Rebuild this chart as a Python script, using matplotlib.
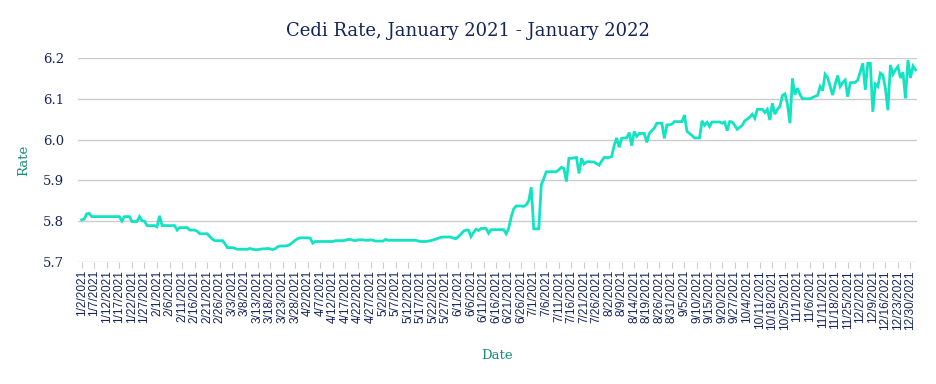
import matplotlib
matplotlib.use("Agg")
from matplotlib import pyplot as plt

# ghana cedi / usd rate, one value per trading day
rate = [
    5.803, 5.805, 5.818, 5.819, 5.811, 5.811, 5.811, 5.811, 5.811, 5.811,
    5.811, 5.811, 5.811, 5.811, 5.811, 5.811, 5.800, 5.811, 5.811, 5.811,
    5.799, 5.799, 5.799, 5.811, 5.801, 5.800, 5.789, 5.789, 5.789, 5.789,
    5.786, 5.813, 5.789, 5.789, 5.789, 5.789, 5.789, 5.789, 5.778, 5.784,
    5.784, 5.784, 5.784, 5.778, 5.778, 5.778, 5.775, 5.769, 5.769, 5.769,
    5.769, 5.762, 5.756, 5.752, 5.752, 5.752, 5.752, 5.745, 5.735, 5.735,
    5.735, 5.733, 5.731, 5.731, 5.731, 5.731, 5.731, 5.733, 5.731, 5.730,
    5.730, 5.731, 5.732, 5.732, 5.733, 5.732, 5.730, 5.732, 5.737, 5.739,
    5.739, 5.739, 5.740, 5.743, 5.748, 5.753, 5.757, 5.759, 5.759, 5.759,
    5.759, 5.758, 5.746, 5.750, 5.750, 5.750, 5.750, 5.750, 5.750, 5.750,
    5.750, 5.752, 5.752, 5.752, 5.752, 5.753, 5.755, 5.755, 5.753, 5.752,
    5.754, 5.754, 5.754, 5.753, 5.753, 5.754, 5.753, 5.751, 5.751, 5.751,
    5.751, 5.755, 5.753, 5.753, 5.753, 5.753, 5.753, 5.753, 5.753, 5.753,
    5.753, 5.753, 5.753, 5.753, 5.751, 5.750, 5.750, 5.750, 5.751, 5.752,
    5.754, 5.756, 5.758, 5.760, 5.761, 5.761, 5.761, 5.761, 5.758, 5.757,
    5.762, 5.768, 5.775, 5.778, 5.778, 5.762, 5.772, 5.780, 5.777, 5.782,
    5.782, 5.782, 5.770, 5.779, 5.779, 5.779, 5.779, 5.779, 5.779, 5.769,
    5.782, 5.810, 5.830, 5.837, 5.837, 5.837, 5.836, 5.840, 5.850, 5.883,
    5.781, 5.781, 5.781, 5.889, 5.905, 5.921, 5.921, 5.921, 5.921, 5.921,
    5.926, 5.932, 5.929, 5.897, 5.954, 5.954, 5.955, 5.956, 5.917, 5.954,
    5.940, 5.945, 5.946, 5.945, 5.945, 5.941, 5.937, 5.947, 5.956, 5.956,
    5.956, 5.958, 5.985, 6.004, 5.981, 6.003, 6.004, 6.004, 6.017, 5.985,
    6.020, 6.008, 6.015, 6.015, 6.015, 5.993, 6.015, 6.022, 6.028, 6.040,
    6.040, 6.040, 6.003, 6.036, 6.036, 6.038, 6.044, 6.044, 6.044, 6.044,
    6.060, 6.020, 6.015, 6.010, 6.004, 6.004, 6.004, 6.046, 6.035, 6.042,
    6.032, 6.043, 6.043, 6.043, 6.043, 6.040, 6.043, 6.022, 6.044, 6.043,
    6.035, 6.025, 6.030, 6.035, 6.046, 6.050, 6.055, 6.062, 6.052, 6.074,
    6.074, 6.074, 6.066, 6.074, 6.048, 6.089, 6.062, 6.074, 6.081, 6.108,
    6.112, 6.087, 6.040, 6.150, 6.110, 6.126, 6.110, 6.100, 6.100, 6.100,
    6.100, 6.103, 6.106, 6.108, 6.130, 6.120, 6.160, 6.152, 6.130, 6.109,
    6.135, 6.157, 6.130, 6.140, 6.146, 6.105, 6.139, 6.140, 6.140, 6.146,
    6.166, 6.187, 6.122, 6.187, 6.187, 6.068, 6.136, 6.130, 6.163, 6.158,
    6.126, 6.072, 6.183, 6.160, 6.171, 6.179, 6.151, 6.165, 6.101, 6.195,
    6.151, 6.180, 6.171,
]

# every 5th trading day is labelled
tick_labels = [
    "1/2/2021", "1/7/2021", "1/12/2021", "1/17/2021", "1/22/2021", "1/27/2021",
    "2/1/2021", "2/6/2021", "2/11/2021", "2/16/2021", "2/21/2021", "2/26/2021",
    "3/3/2021", "3/8/2021", "3/13/2021", "3/18/2021", "3/23/2021", "3/28/2021",
    "4/2/2021", "4/7/2021", "4/12/2021", "4/17/2021", "4/22/2021", "4/27/2021",
    "5/2/2021", "5/7/2021", "5/12/2021", "5/17/2021", "5/22/2021", "5/27/2021",
    "6/1/2021", "6/6/2021", "6/11/2021", "6/16/2021", "6/21/2021", "6/26/2021",
    "7/1/2021", "7/6/2021", "7/11/2021", "7/16/2021", "7/21/2021", "7/26/2021",
    "8/2/2021", "8/9/2021", "8/14/2021", "8/19/2021", "8/26/2021", "8/31/2021",
    "9/5/2021", "9/10/2021", "9/15/2021", "9/20/2021", "9/27/2021", "10/4/2021",
    "10/11/2021", "10/18/2021", "10/25/2021", "11/1/2021", "11/6/2021",
    "11/11/2021", "11/18/2021", "11/25/2021", "12/2/2021", "12/9/2021",
    "12/16/2021", "12/23/2021", "12/30/2021",
]
y_ticks = [5.7, 5.8, 5.9, 6.0, 6.1, 6.2]

navy = "#14245a"
teal = "#1b8c7c"
line_color = "#12e3c2"

fig = plt.figure(figsize=(9.36, 3.84), dpi=100)
ax = fig.add_axes([0.083, 0.318, 0.897, 0.531])

x = list(range(len(rate)))
ax.plot(x, rate, color=line_color, linewidth=2, solid_joinstyle="miter")

ax.set_xlim(-1.6, len(rate) - 0.3)
ax.set_ylim(5.7, 6.2)
ax.set_yticks(y_ticks)
ax.set_yticklabels([f"{v:.1f}" for v in y_ticks], family="DejaVu Serif",
                   fontsize=9.5, color=navy)
ax.set_xticks(list(range(0, len(tick_labels) * 5, 5)))
ax.set_xticklabels(tick_labels, rotation=90, family="Liberation Sans",
                   fontsize=8.6, color=navy)

ax.grid(axis="y", color="#cccccc", linewidth=1)
ax.set_axisbelow(True)
for s in ax.spines.values():
    s.set_visible(False)
ax.tick_params(axis="y", length=0, pad=10)
ax.tick_params(axis="x", length=4, color="#cccccc", pad=2)

ax.set_xlabel("Date", family="DejaVu Serif", fontsize=9.5, color=teal, labelpad=14)
ax.set_ylabel("Rate", family="DejaVu Serif", fontsize=9.5, color=teal, labelpad=9)
fig.text(0.5, 0.92, "Cedi Rate, January 2021 - January 2022", ha="center",
         va="center", family="DejaVu Serif", fontsize=13, color=navy)

plt.savefig("out.png", format="png")
